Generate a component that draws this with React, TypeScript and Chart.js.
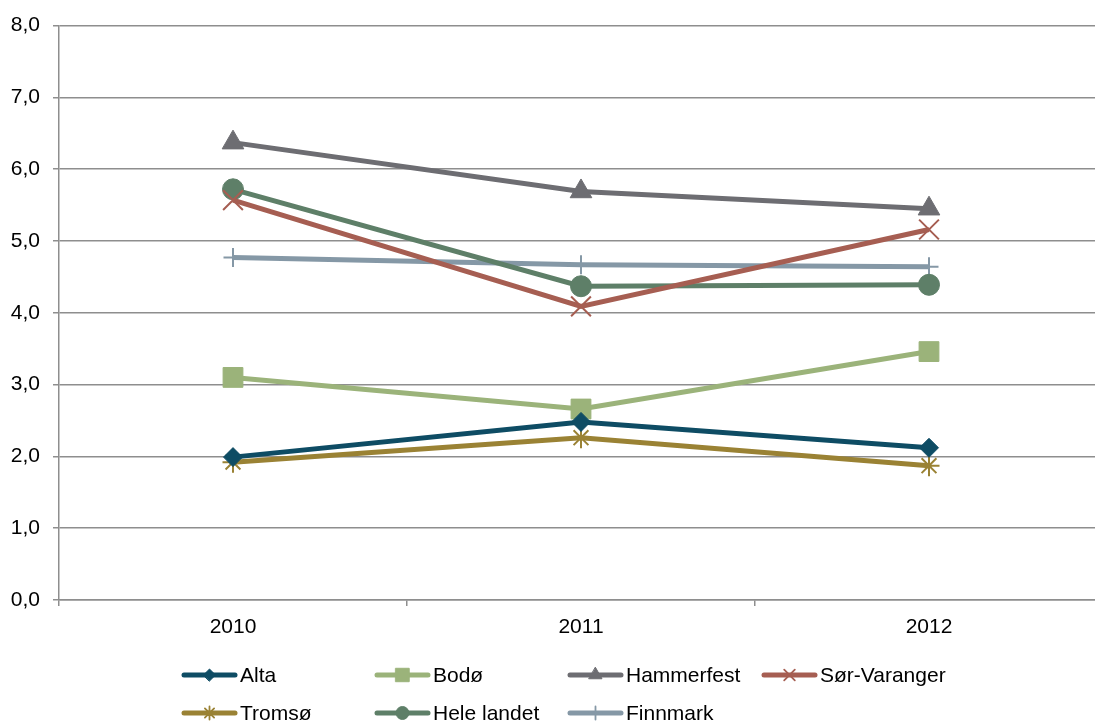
import React, { useEffect, useRef } from "react";
import { Chart, registerables } from "chart.js";
import { drawPoint } from "chart.js/helpers";

Chart.register(...registerables);

const years = ["2010", "2011", "2012"];
const alta = [1.99, 2.48, 2.12];
const bodo = [3.1, 2.66, 3.46];
const hammerfest = [6.37, 5.69, 5.45];
const sorVaranger = [5.57, 4.09, 5.16];
const tromso = [1.92, 2.26, 1.87];
const heleLandet = [5.72, 4.37, 4.39];
const finnmark = [4.77, 4.67, 4.64];

const seriesNames = ["Alta", "Bodø", "Hammerfest", "Sør-Varanger", "Tromsø", "Hele landet", "Finnmark"];
const seriesValues = [alta, bodo, hammerfest, sorVaranger, tromso, heleLandet, finnmark];
const seriesColors = ["#0E4C64", "#9BB37A", "#6D6D72", "#A65E52", "#9A8234", "#5E7F68", "#8598A6"];
const seriesStyles = ["rectRot", "rect", "triangle", "crossRot", "star", "circle", "cross"];
const seriesRadius = [9.5, 14, 12.5, 14, 10.5, 10.5, 9.5];
const legendRadius = [6, 9.5, 7.5, 7.5, 6.5, 6.5, 6.5];

const GRID = "#8E8E8E";
const FAMILY = "'Liberation Sans', Arial, sans-serif";
const AXIS_FONT = { family: FAMILY, size: 21 };
const LEGEND_SIZE = 21;

const legendPlugin = {
  id: "customLegend",
  afterDraw(chart: any) {
    const ctx = chart.ctx;
    const colX = [182, 375, 568, 762];
    const rowY = [675, 713];
    ctx.save();
    seriesNames.forEach((name, i) => {
      const row = i < 4 ? 0 : 1;
      const col = i < 4 ? i : i - 4;
      const x = colX[col];
      const y = rowY[row];
      const color = seriesColors[i];
      ctx.strokeStyle = color;
      ctx.lineWidth = 5;
      ctx.lineCap = "round";
      ctx.beginPath();
      ctx.moveTo(x + 2, y);
      ctx.lineTo(x + 53, y);
      ctx.stroke();
      const isLineStyle = ["crossRot", "star", "cross"].includes(seriesStyles[i]);
      ctx.fillStyle = color;
      ctx.strokeStyle = color;
      ctx.lineWidth = isLineStyle ? 1.8 : 1;
      drawPoint(ctx, { pointStyle: seriesStyles[i], rotation: 0, radius: legendRadius[i], borderWidth: ctx.lineWidth } as any, x + 27.5, y);
      ctx.fillStyle = "#000";
      ctx.font = `${LEGEND_SIZE}px ${FAMILY}`;
      ctx.textAlign = "left";
      ctx.textBaseline = "middle";
      ctx.fillText(name, x + 58, y + 1);
    });
    ctx.restore();
  },
};

export default function App() {
  const ref = useRef<HTMLCanvasElement>(null);
  useEffect(() => {
    document.body.style.margin = "0";
    document.body.style.overflow = "hidden";
    const canvas = ref.current!;
    const chart = new Chart(canvas, {
      type: "line",
      data: {
        labels: years,
        datasets: seriesNames.map((name, i) => ({
          label: name,
          data: seriesValues[i],
          borderColor: seriesColors[i],
          backgroundColor: seriesColors[i],
          pointBackgroundColor: seriesColors[i],
          pointBorderColor: seriesColors[i],
          pointStyle: seriesStyles[i] as any,
          pointRadius: seriesRadius[i],
          pointBorderWidth: ["crossRot", "star", "cross"].includes(seriesStyles[i]) ? 2 : 1,
          borderWidth: 5,
          tension: 0,
          fill: false,
        })),
      },
      options: {
        animation: false,
        responsive: false,
        layout: { autoPadding: false, padding: { top: 24, left: 0, right: 0, bottom: 0 } },
        plugins: { legend: { display: false }, tooltip: { enabled: false } },
        scales: {
          x: {
            offset: true,
            grid: { offset: true, drawOnChartArea: false, drawTicks: true, tickLength: 6, color: GRID, lineWidth: 1.5 },
            border: { display: true, color: GRID, width: 1.5 },
            ticks: { color: "#000", font: AXIS_FONT, padding: 9, maxRotation: 0 },
            afterFit: (s: any) => {
              s.height = 124;
              s.paddingLeft = 0;
              s.paddingRight = 0;
            },
          },
          y: {
            min: 0,
            max: 8,
            ticks: {
              stepSize: 1,
              color: "#000",
              font: AXIS_FONT,
              padding: 13,
              callback: (v: any) => Number(v).toFixed(1).replace(".", ","),
            },
            grid: { color: GRID, lineWidth: 1.5, tickLength: 6 },
            border: { display: true, color: GRID, width: 1.5 },
            afterFit: (s: any) => {
              s.width = 59;
            },
          },
        },
      },
      plugins: [legendPlugin],
    });
    return () => chart.destroy();
  }, []);
  return (
    <div style={{ width: 1095, height: 724, overflow: "hidden", position: "relative", background: "#fff" }}>
      <canvas ref={ref} width={1103} height={724} style={{ width: 1103, height: 724, display: "block" }} />
    </div>
  );
}
